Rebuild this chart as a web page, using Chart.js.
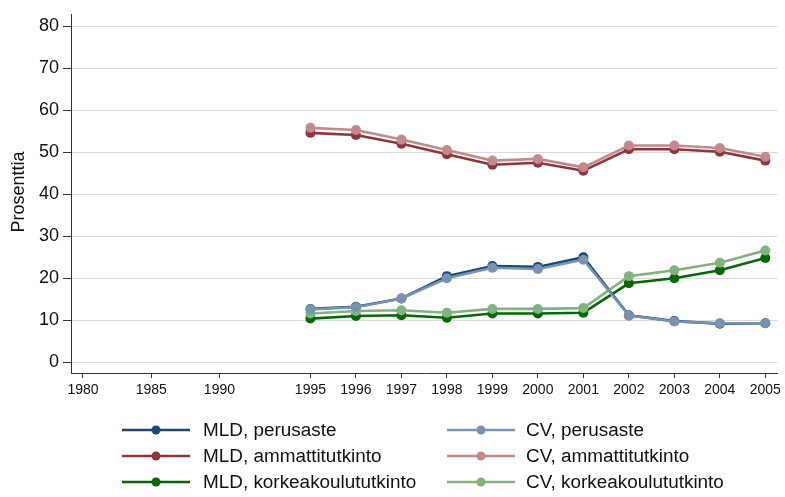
<!DOCTYPE html>
<html>
<head>
<meta charset="utf-8">
<script src="https://cdn.jsdelivr.net/npm/chart.js@4/dist/chart.umd.min.js"></script>
<style>
  html, body { margin: 0; padding: 0; background: #fff; }
  canvas { display: block; }
</style>
</head>
<body>
<canvas id="chart" width="785" height="497"></canvas>
<script>
var years = [1995, 1996, 1997, 1998, 1999, 2000, 2001, 2002, 2003, 2004, 2005];
var tickYears = [1980, 1985, 1990, 1995, 1996, 1997, 1998, 1999, 2000, 2001, 2002, 2003, 2004, 2005];
var yTicks = [0, 10, 20, 30, 40, 50, 60, 70, 80];

var mldPerusaste = [12.7, 13.2, 15.2, 20.5, 22.9, 22.7, 25.0, 11.2, 9.8, 9.2, 9.3];
var cvPerusaste  = [12.6, 13.1, 15.2, 20.0, 22.5, 22.2, 24.4, 11.1, 9.7, 9.3, 9.3];
var mldAmmatti   = [54.6, 54.1, 52.0, 49.5, 47.0, 47.5, 45.6, 50.7, 50.7, 50.1, 48.0];
var cvAmmatti    = [55.8, 55.3, 53.0, 50.5, 48.0, 48.4, 46.4, 51.6, 51.6, 51.0, 48.9];
var mldKorkea    = [10.4, 11.0, 11.2, 10.6, 11.6, 11.6, 11.8, 18.8, 20.0, 21.9, 24.8];
var cvKorkea     = [11.6, 12.2, 12.4, 11.8, 12.7, 12.7, 12.9, 20.5, 21.9, 23.7, 26.6];

var seriesNames = [
    'MLD, perusaste', 'MLD, ammattitutkinto', 'MLD, korkeakoulututkinto',
    'CV, perusaste', 'CV, ammattitutkinto', 'CV, korkeakoulututkinto'
];
var seriesValues = [mldPerusaste, mldAmmatti, mldKorkea, cvPerusaste, cvAmmatti, cvKorkea];
var seriesColors = ['#1a476f', '#90353b', '#066806', '#7893b2', '#c38a8d', '#80b380'];

// the year axis is squeezed before 1995
function xPos(year) {
    return year >= 1995 ? year - 1990 : (year - 1980) * 0.3;
}

function makeDataset(i) {
    return {
        label: seriesNames[i],
        data: years.map(function(y, k) { return { x: xPos(y), y: seriesValues[i][k] }; }),
        borderColor: seriesColors[i],
        backgroundColor: seriesColors[i],
        pointBackgroundColor: seriesColors[i],
        pointBorderWidth: 0,
        pointRadius: 5,
        borderWidth: 2.6,
        tension: 0,
        order: i < 3 ? 1 : 0
    };
}

var stataLegend = {
    id: 'stataLegend',
    afterDraw: function(chart) {
        var ctx = chart.ctx;
        var rows = [430, 456, 482];
        var cols = [{ x1: 122, x2: 190, tx: 203 }, { x1: 447, x2: 515, tx: 526 }];
        ctx.save();
        chart.data.datasets.forEach(function(ds, i) {
            var c = cols[Math.floor(i / 3)];
            var y = rows[i % 3];
            ctx.strokeStyle = ds.borderColor;
            ctx.lineWidth = 2.6;
            ctx.beginPath();
            ctx.moveTo(c.x1, y);
            ctx.lineTo(c.x2, y);
            ctx.stroke();
            ctx.fillStyle = ds.borderColor;
            ctx.beginPath();
            ctx.arc((c.x1 + c.x2) / 2, y, 4.5, 0, Math.PI * 2);
            ctx.fill();

            // stata text runs a bit wider than arial
            ctx.save();
            ctx.translate(c.tx, y + 1);
            ctx.scale(1.05, 1);
            ctx.fillStyle = '#111';
            ctx.font = '18px "Liberation Sans", Arial, sans-serif';
            ctx.textBaseline = 'middle';
            ctx.textAlign = 'left';
            ctx.fillText(ds.label, 0, 0);
            ctx.restore();
        });
        // y axis title
        ctx.translate(19.5, 192);
        ctx.rotate(-Math.PI / 2);
        ctx.textAlign = 'center';
        ctx.textBaseline = 'middle';
        ctx.fillStyle = '#111';
        ctx.font = '18px "Liberation Sans", Arial, sans-serif';
        ctx.fillText('Prosenttia', 0, 0);
        ctx.restore();
    }
};

new Chart(document.getElementById('chart'), {
    type: 'line',
    data: {
        datasets: seriesNames.map(function(n, i) { return makeDataset(i); })
    },
    plugins: [stataLegend],
    options: {
        responsive: false,
        animation: false,
        layout: {
            padding: { top: 5, right: 6, left: 0, bottom: 0 }
        },
        plugins: {
            legend: { display: false },
            tooltip: { enabled: false }
        },
        scales: {
            x: {
                type: 'linear',
                min: -0.263,
                max: 15.263,
                afterFit: function(scale) { scale.height = 124; },
                afterBuildTicks: function(scale) {
                    scale.ticks = tickYears.map(function(y) { return { value: xPos(y) }; });
                },
                grid: {
                    drawOnChartArea: false,
                    drawTicks: true,
                    tickLength: 5,
                    tickColor: '#333'
                },
                border: { display: true, color: '#333', width: 1 },
                ticks: {
                    autoSkip: false,
                    maxRotation: 0,
                    padding: 4,
                    color: '#111',
                    font: { family: '"Liberation Sans", Arial, sans-serif', size: 14 },
                    callback: function(value, index) { return String(tickYears[index]); }
                }
            },
            y: {
                min: -2.55,
                max: 82.7,
                afterFit: function(scale) { scale.width = 71; },
                afterBuildTicks: function(scale) {
                    scale.ticks = yTicks.map(function(v) { return { value: v }; });
                },
                grid: {
                    color: '#dadada',
                    lineWidth: 1,
                    tickLength: 8,
                    tickColor: '#333'
                },
                border: { display: true, color: '#333', width: 1 },
                ticks: {
                    padding: 4,
                    color: '#111',
                    font: { family: '"Liberation Sans", Arial, sans-serif', size: 18 }
                }
            }
        }
    }
});
</script>
</body>
</html>
